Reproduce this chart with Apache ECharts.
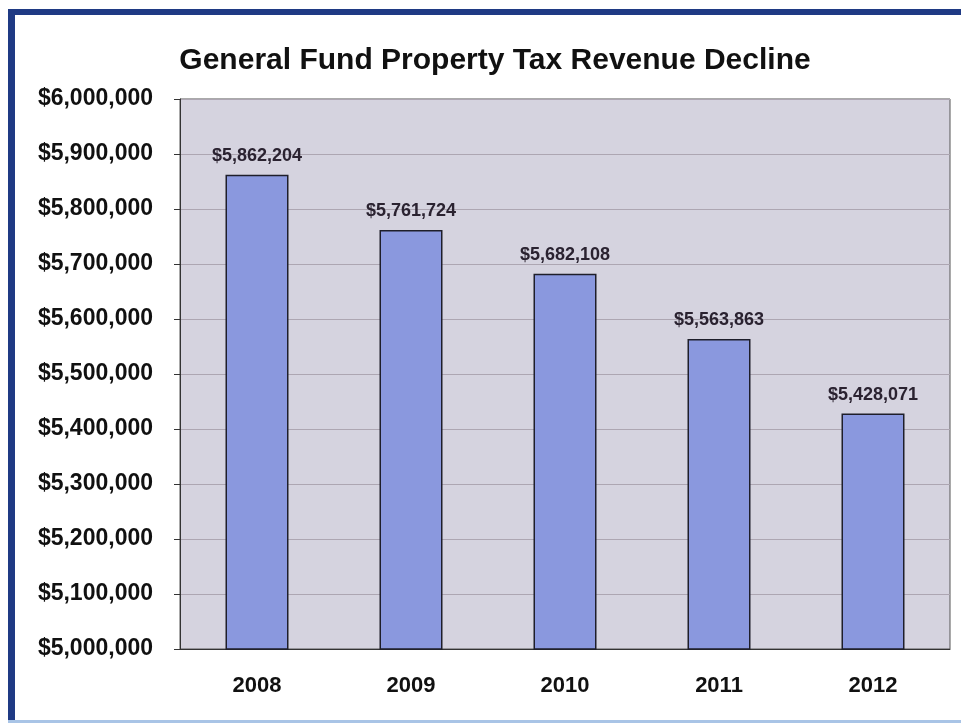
<!DOCTYPE html>
<html>
<head>
<meta charset="utf-8">
<style>
  html, body { margin: 0; padding: 0; background: #ffffff; }
  #chart { width: 961px; height: 723px; }
</style>
<script src="https://cdn.jsdelivr.net/npm/echarts@6/dist/echarts.min.js"></script>
</head>
<body>
<div id="chart"></div>
<script>
// Fiscal years and General Fund property tax revenue
const years = ['2008', '2009', '2010', '2011', '2012'];
const revenue = [5862204, 5761724, 5682108, 5563863, 5428071];

// Value axis range
const yMin = 5000000;
const yMax = 6000000;
const yStep = 100000;

const FONT = '"Liberation Sans", Arial, sans-serif';
const fmtMoney = v => '$' + Math.round(v).toLocaleString('en-US');

const chart = echarts.init(document.getElementById('chart'), null, { renderer: 'canvas' });

chart.setOption({
  backgroundColor: '#ffffff',
  animation: false,
  title: {
    text: 'General Fund Property Tax Revenue Decline',
    left: 490,
    textAlign: 'center',
    top: 41,
    textStyle: {
      fontFamily: FONT,
      fontSize: 30,
      fontWeight: 'bold',
      color: '#111111'
    }
  },
  grid: {
    left: 180,
    right: 11,
    top: 99,
    bottom: 74,
    show: true,
    backgroundColor: '#d5d3df',
    borderColor: '#555555',
    borderWidth: 1
  },
  xAxis: {
    type: 'category',
    data: years,
    axisLine: { lineStyle: { color: '#333333', width: 1 } },
    axisTick: { show: false },
    axisLabel: {
      margin: 26,
      fontFamily: FONT,
      fontSize: 22,
      fontWeight: 'bold',
      color: '#111111'
    }
  },
  yAxis: {
    type: 'value',
    min: yMin,
    max: yMax,
    interval: yStep,
    axisLine: { show: true, lineStyle: { color: '#333333', width: 1 } },
    axisTick: { show: true, length: 6, lineStyle: { color: '#333333' } },
    splitLine: { lineStyle: { color: '#ada6b2', width: 1 } },
    axisLabel: {
      margin: 27,
      padding: [4, 0, 0, 0],
      fontFamily: FONT,
      fontSize: 23,
      fontWeight: 'bold',
      color: '#111111',
      formatter: v => fmtMoney(v)
    }
  },
  series: [{
    type: 'bar',
    data: revenue,
    barWidth: 63,
    itemStyle: {
      color: '#8a98de',
      borderColor: '#1e1e2a',
      borderWidth: 1.5
    },
    label: {
      show: true,
      position: 'top',
      distance: 10,
      fontFamily: FONT,
      fontSize: 18,
      fontWeight: 'bold',
      color: '#2a2230',
      formatter: p => fmtMoney(p.value)
    }
  }],
  graphic: [
    // outer frame: dark blue along top and left, pale blue along the bottom
    { type: 'rect', shape: { x: 8, y: 9, width: 953, height: 6 }, style: { fill: '#1f3a84' }, z: 100 },
    { type: 'rect', shape: { x: 8, y: 9, width: 7, height: 714 }, style: { fill: '#1f3a84' }, z: 100 },
    { type: 'rect', shape: { x: 8, y: 720, width: 953, height: 3 }, style: { fill: '#a9c4e6' }, z: 100 }
  ]
});
</script>
</body>
</html>
